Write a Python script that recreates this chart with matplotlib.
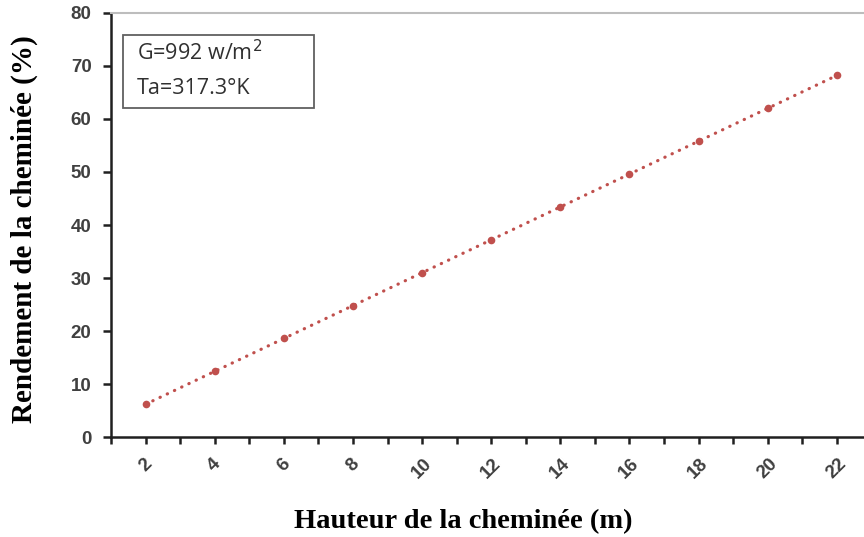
import matplotlib.pyplot as plt
from matplotlib.patches import Rectangle

# chimney height (m) and efficiency (%)
hauteur = [2, 4, 6, 8, 10, 12, 14, 16, 18, 20, 22]
rendement = [6.2, 12.4, 18.6, 24.8, 31.0, 37.2, 43.4, 49.6, 55.8, 62.0, 68.2]
y_ticks = [0, 10, 20, 30, 40, 50, 60, 70, 80]

red = "#C0504D"
tick_color = "#404040"

fig = plt.figure(figsize=(8.64, 5.37), dpi=100)
ax = fig.add_axes([0.1285, 0.186, 0.88, 0.79])

ax.plot(hauteur, rendement, color=red, lw=2.3,
        linestyle=(0, (0.1, 2.4)), dash_capstyle="round",
        marker="o", markersize=5.5, markeredgewidth=0, zorder=3)

ax.set_xlim(1, 23)
ax.set_ylim(0, 80)
ax.set_yticks(y_ticks)
ax.set_xticks(hauteur)
ax.set_xticks(range(1, 24), minor=True)

ax.spines["left"].set_color("#202020")
ax.spines["left"].set_linewidth(1.8)
ax.spines["bottom"].set_color("#202020")
ax.spines["bottom"].set_linewidth(1.8)
ax.spines["top"].set_color("#bdbdbd")
ax.spines["top"].set_linewidth(1.5)
ax.spines["right"].set_visible(False)

ax.tick_params(axis="y", direction="out", length=6, width=1.8,
               color="#202020", labelsize=13.5, labelcolor=tick_color, pad=8)
ax.tick_params(axis="x", which="both", direction="out", length=5, width=1.8,
               color="#202020", labelsize=13.5, labelcolor=tick_color, pad=8)
for lbl in ax.get_xticklabels() + ax.get_yticklabels():
    lbl.set_fontweight("bold")
    lbl.set_family("Liberation Sans")
for lbl in ax.get_xticklabels():
    lbl.set_rotation(45)

ax.set_xlabel("Hauteur de la cheminée (m)", family="Liberation Serif",
              fontweight="bold", fontsize=20.5)
ax.xaxis.set_label_coords(0.463, -0.17)
ax.set_ylabel("Rendement de la cheminée (%)", family="Liberation Serif",
              fontweight="bold", fontsize=21)
ax.yaxis.set_label_coords(-0.096, 0.49)

# parameter box
fig.patches.append(Rectangle((123 / 864, 1 - 108 / 537), 191 / 864, 73 / 537,
                             transform=fig.transFigure, facecolor="white",
                             edgecolor="#606060", linewidth=1.3, zorder=5))
fig.text(137 / 864, 1 - 53 / 537, "G=992 w/m$^2$", va="center", ha="left",
         fontsize=15.5, family="Open Sans", color="#303030", zorder=6)
fig.text(137 / 864, 1 - 89 / 537, "Ta=317.3°K", va="center", ha="left",
         fontsize=15.5, family="Open Sans", color="#303030", zorder=6)

fig.savefig("out.png", dpi=100)
plt.close(fig)
